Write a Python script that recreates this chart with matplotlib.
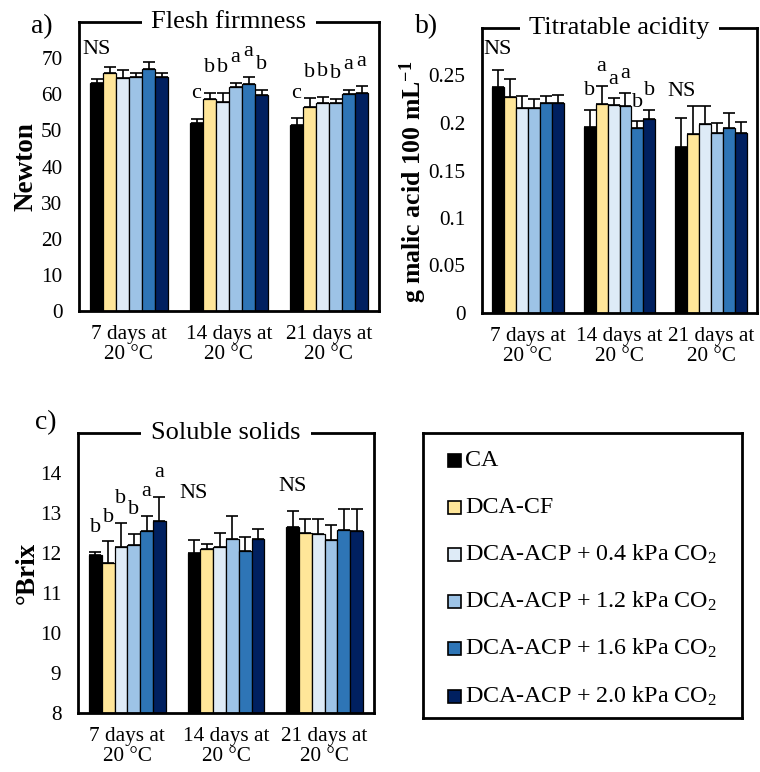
import numpy as np
import matplotlib
matplotlib.use("Agg")
import matplotlib.pyplot as plt
from matplotlib.patches import Rectangle

plt.rcParams['font.family'] = ['Liberation Serif', 'DejaVu Serif']
plt.rcParams['mathtext.fontset'] = 'custom'
plt.rcParams['mathtext.rm'] = 'Liberation Serif'
plt.rcParams['mathtext.it'] = 'Liberation Serif:italic'
plt.rcParams['mathtext.bf'] = 'Liberation Serif:bold'

# ---- data ----
periods = ["7 days at\n20 °C", "14 days at\n20 °C", "21 days at\n20 °C"]
treatments = ["CA", "DCA-CF",
              "DCA-ACP + 0.4 kPa CO$_\\mathregular{2}$",
              "DCA-ACP + 1.2 kPa CO$_\\mathregular{2}$",
              "DCA-ACP + 1.6 kPa CO$_\\mathregular{2}$",
              "DCA-ACP + 2.0 kPa CO$_\\mathregular{2}$"]
colors = ["#000000", "#FFE699", "#DEEBF7", "#9DC3E6", "#2E75B6", "#002060"]

# rows = treatments, cols = periods
firm_mean = [[63.1, 52.0, 51.4],
             [65.8, 58.8, 56.6],
             [64.4, 57.8, 57.7],
             [64.9, 62.0, 57.7],
             [66.9, 62.7, 60.0],
             [64.7, 59.8, 60.3]]
firm_sd = [[1.2, 1.1, 1.9],
           [1.8, 1.5, 2.5],
           [2.2, 2.5, 1.5],
           [0.9, 1.2, 1.0],
           [2.1, 2.0, 1.1],
           [1.1, 1.3, 1.9]]
firm_letters = [["", "c", "c"], ["", "b", "b"], ["", "b", "b"],
                ["", "a", "b"], ["", "a", "a"], ["", "b", "a"]]
firm_ns = {0: 72.4}

acid_mean = [[0.238, 0.196, 0.175],
             [0.227, 0.220, 0.188],
             [0.216, 0.219, 0.199],
             [0.216, 0.218, 0.190],
             [0.221, 0.195, 0.195],
             [0.221, 0.204, 0.189]]
acid_sd = [[0.018, 0.018, 0.030],
           [0.019, 0.019, 0.030],
           [0.012, 0.007, 0.019],
           [0.009, 0.014, 0.010],
           [0.007, 0.007, 0.015],
           [0.009, 0.010, 0.012]]
acid_letters = [["", "b", ""], ["", "a", ""], ["", "a", ""],
                ["", "a", ""], ["", "b", ""], ["", "b", ""]]
acid_ns = {0: 0.277, 2: 0.233}

ssc_mean = [[11.95, 12.01, 12.64],
            [11.76, 12.11, 12.51],
            [12.16, 12.16, 12.48],
            [12.20, 12.35, 12.33],
            [12.56, 12.06, 12.58],
            [12.80, 12.35, 12.55]]
ssc_sd = [[0.08, 0.32, 0.42],
          [0.53, 0.11, 0.35],
          [0.59, 0.33, 0.38],
          [0.28, 0.58, 0.36],
          [0.37, 0.35, 0.53],
          [0.60, 0.26, 0.56]]
ssc_letters = [["b", "", ""], ["b", "", ""], ["b", "", ""],
               ["b", "", ""], ["a", "", ""], ["a", "", ""]]
ssc_ns = {1: 13.48, 2: 13.65}

W, H = 760, 772
fig = plt.figure(figsize=(W / 100, H / 100), dpi=100)


def px_axes(left, top, right, bottom):
    return fig.add_axes([left / W, 1 - bottom / H, (right - left) / W, (bottom - top) / H])


def panel(ax, means, sds, letters, ns, ylim, yticks, yticklabels, title, ylabel, offset,
          ylab_x, ylab_y=0.5, ylab_size=19.5):
    x = np.arange(len(periods))
    bw = 0.13
    for j in range(len(treatments)):
        m = np.array(means[j])
        s = np.array(sds[j])
        xs = x + (j - 2.5) * bw
        ax.bar(xs, m - ylim[0], bw, bottom=ylim[0], color=colors[j],
               edgecolor="black", linewidth=0.9, zorder=2)
        ax.errorbar(xs, m, yerr=[np.zeros_like(s), s], fmt="none", ecolor="black",
                    elinewidth=1.2, capsize=4, capthick=1.2, zorder=3)
        for i in range(len(periods)):
            if letters[j][i]:
                ax.text(xs[i], m[i] + s[i] + offset, letters[j][i], ha="center",
                        va="center", fontsize=16)
    for i, h in ns.items():
        ax.text(x[i] - 2.5 * bw, h, "NS", ha="center", va="center", fontsize=16)
    ax.set_xlim(-0.5, len(periods) - 0.5)
    ax.set_ylim(*ylim)
    ax.set_yticks(yticks)
    ax.set_yticklabels(yticklabels)
    ax.set_xticks(x)
    ax.set_xticklabels(periods, linespacing=1.1)
    ax.tick_params(length=0, labelsize=15.3)
    ax.tick_params(axis="y", pad=12)
    ax.tick_params(axis="x", pad=10)
    for sp in ax.spines.values():
        sp.set_linewidth(2)
    ax.text(0.5, 1.0, title, transform=ax.transAxes, ha="center", va="center",
            fontsize=19, bbox=dict(fc="white", ec="none", pad=7), zorder=5, clip_on=False)
    ax.text(ylab_x, ylab_y, ylabel, transform=ax.transAxes, rotation=90, ha="center",
            va="center", fontsize=ylab_size, fontweight="bold")
    return ax


ax1 = px_axes(79, 22, 379, 311)
panel(ax1, firm_mean, firm_sd, firm_letters, firm_ns, (0, 80), range(0, 71, 10),
      [str(v) for v in range(0, 71, 10)], "Flesh firmness", "Newton", 7, -0.177)
fig.text(42 / W, 1 - 27 / H, "a)", fontsize=20, ha="center", va="center")

ax2 = px_axes(482, 28, 757, 313)
acid_ticks = [0, 0.05, 0.1, 0.15, 0.2, 0.25]
panel(ax2, acid_mean, acid_sd, acid_letters, acid_ns, (0, 0.30), acid_ticks,
      ["0", "0.05", "0.1", "0.15", "0.2", "0.25"], "Titratable acidity",
      r"g malic acid 100 mL$^{\mathbf{-1}}$", 0.02, -0.25, 0.46, 18.5)
fig.text(427 / W, 1 - 27 / H, "b)", fontsize=20, ha="center", va="center")

ax3 = px_axes(78, 433, 374, 713)
panel(ax3, ssc_mean, ssc_sd, ssc_letters, ssc_ns, (8, 15), range(8, 15),
      [str(v) for v in range(8, 15)], "Soluble solids", "°Brix", 0.6, -0.17)
fig.text(46 / W, 1 - 423 / H, "c)", fontsize=20, ha="center", va="center")

# legend box
lax = px_axes(423, 433, 742, 718)
lax.set_xticks([])
lax.set_yticks([])
for sp in lax.spines.values():
    sp.set_linewidth(2)
lax.set_xlim(0, 319)
lax.set_ylim(285, 0)
for j, name in enumerate(treatments):
    yc = 27 + j * 47.2
    lax.add_patch(Rectangle((25, yc - 6.5), 13, 13, facecolor=colors[j],
                            edgecolor="black", linewidth=1.2))
    lax.text(42, yc, name, ha="left", va="center", fontsize=17.3)

fig.savefig("out.png", dpi=100)
